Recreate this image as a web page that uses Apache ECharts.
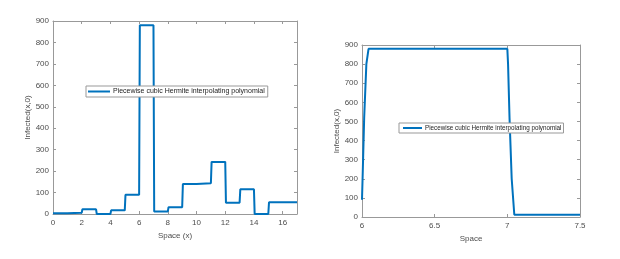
<!DOCTYPE html>
<html><head><meta charset="utf-8">
<script src="https://cdn.jsdelivr.net/npm/echarts@6/dist/echarts.min.js"></script>
<style>html,body{margin:0;padding:0;background:#fff}#c{width:620px;height:259px}</style>
</head><body><div id="c"></div>
<script>
// Left panel: full domain
const leftX = [0, 1, 1.05, 2, 2.05, 3, 3.05, 4, 4.05, 5, 5.05, 6, 6.05, 7, 7.05, 8, 8.05, 9, 9.05, 10, 10.05, 11, 11.05, 12, 12.05, 13, 13.05, 14, 14.05, 15, 15.05, 17];
const leftY = [3, 4, 5, 6, 22, 22, 0, 0, 17, 17, 90, 90, 880, 880, 12, 12, 32, 32, 140, 140, 143, 143, 243, 243, 53, 53, 115, 115, 0, 0, 55, 55];
// Right panel: zoom on 6..7.5
const rightX = [6, 6.005, 6.015, 6.03, 6.045, 7, 7.005, 7.015, 7.03, 7.048, 7.5];
const rightY = [90, 230, 520, 800, 880, 880, 800, 520, 200, 12, 12];
const seriesName = 'Piecewise cubic Hermite interpolating polynomial';
const xTicksLeft = {min: 0, max: 17, interval: 2};
const xTicksRight = {min: 6, max: 7.5, interval: 0.5};
const yTicks = {min: 0, max: 900, interval: 100};

const pairs = (xs, ys) => xs.map((x, i) => [x, ys[i]]);
const axisCol = '#999';
const labCol = '#4d4d4d';
const font = 'Liberation Sans, Arial, sans-serif';

function xAx(idx, t, name, top) {
  return {
    type: 'value', gridIndex: idx, min: t.min, max: t.max, interval: t.interval,
    position: top ? 'top' : 'bottom',
    name: top ? '' : name, nameLocation: 'middle', nameGap: 17,
    nameTextStyle: {color: labCol, fontSize: 8, fontFamily: font},
    axisLine: {show: true, onZero: false, lineStyle: {color: axisCol, width: 1}},
    axisTick: {show: true, inside: true, length: 3, lineStyle: {color: axisCol}},
    axisLabel: {show: !top, color: labCol, fontSize: 8, fontFamily: font, margin: 5,
      formatter: v => (Math.abs((v - t.min) / t.interval - Math.round((v - t.min) / t.interval)) < 1e-6) ? String(v) : ''},
    splitLine: {show: false}
  };
}
function yAx(idx, name, right, gap) {
  return {
    type: 'value', gridIndex: idx, min: yTicks.min, max: yTicks.max, interval: yTicks.interval,
    position: right ? 'right' : 'left',
    name: right ? '' : name, nameLocation: 'middle', nameGap: gap,
    nameTextStyle: {color: labCol, fontSize: 8, fontFamily: font},
    axisLine: {show: true, onZero: false, lineStyle: {color: axisCol, width: 1}},
    axisTick: {show: true, inside: true, length: 3, lineStyle: {color: axisCol}},
    axisLabel: {show: !right, color: labCol, fontSize: 8, fontFamily: font, margin: 4},
    splitLine: {show: false}
  };
}

const chart = echarts.init(document.getElementById('c'), null, {renderer: 'canvas'});
chart.setOption({
  animation: false,
  backgroundColor: '#fff',
  grid: [
    {left: 53, right: 323, top: 21, bottom: 45},
    {left: 362, right: 40, top: 45, bottom: 42}
  ],
  xAxis: [
    xAx(0, xTicksLeft, 'Space (x)', false),
    xAx(0, xTicksLeft, '', true),
    xAx(1, xTicksRight, 'Space', false),
    xAx(1, xTicksRight, '', true)
  ],
  yAxis: [
    yAx(0, 'Infected(x,0)', false, 20),
    yAx(0, '', true, 0),
    yAx(1, 'Infected(x,0)', false, 17),
    yAx(1, '', true, 0)
  ],
  legend: [
    {left: 86, top: 86, itemWidth: 22, itemHeight: 2, itemGap: 0, padding: [2, 3, 2, 2],
     borderColor: '#999', borderWidth: 1, backgroundColor: '#fff', borderRadius: 0,
     icon: 'rect', data: [{name: seriesName}],
     textStyle: {fontSize: 7, color: '#222', fontFamily: font, padding: [0, 0, 0, -2]}},
    {left: 399, top: 123, itemWidth: 19, itemHeight: 2, itemGap: 0, padding: [2, 2, 2, 4],
     borderColor: '#999', borderWidth: 1, backgroundColor: '#fff', borderRadius: 0,
     icon: 'rect', data: [{name: seriesName}],
     textStyle: {fontSize: 6.3, color: '#222', fontFamily: font, padding: [0, 0, 0, -2]}}
  ],
  series: [
    {type: 'line', name: seriesName, xAxisIndex: 0, yAxisIndex: 0, data: pairs(leftX, leftY),
     showSymbol: false, symbol: 'none', lineStyle: {color: '#0072BD', width: 2}, itemStyle: {color: '#0072BD'}},
    {type: 'line', name: seriesName, xAxisIndex: 2, yAxisIndex: 2, data: pairs(rightX, rightY),
     showSymbol: false, symbol: 'none', lineStyle: {color: '#0072BD', width: 2}, itemStyle: {color: '#0072BD'}}
  ]
});
</script></body></html>
